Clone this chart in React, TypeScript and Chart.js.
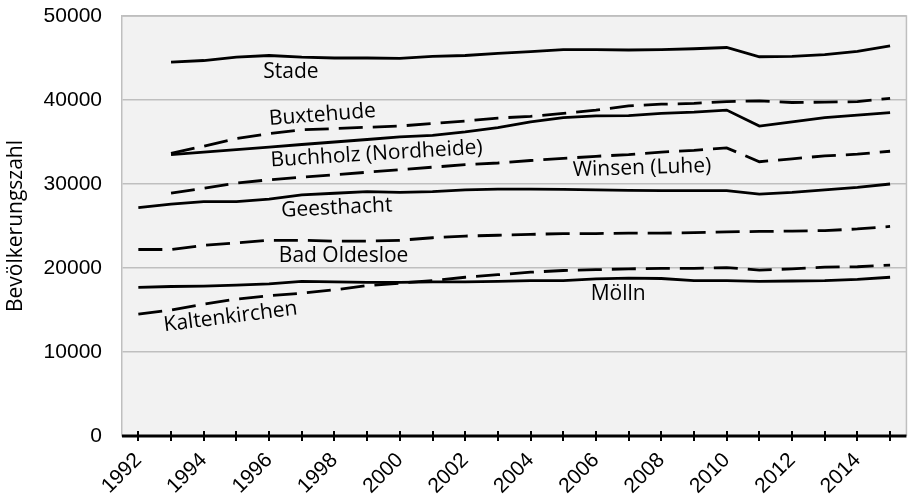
import React, { useEffect, useRef, useState } from "react";
import { Chart, registerables } from "chart.js";

Chart.register(...registerables);

const years = [
  "1992", "1993", "1994", "1995", "1996", "1997", "1998", "1999", "2000", "2001", "2002", "2003",
  "2004", "2005", "2006", "2007", "2008", "2009", "2010", "2011", "2012", "2013", "2014", "2015",
];

const stade = [null, 44500, 44700, 45100, 45300, 45100, 45000, 45000, 44950, 45200, 45300, 45550,
  45750, 46000, 46000, 45950, 46000, 46100, 46250, 45150, 45200, 45400, 45800, 46450];
const buxtehude = [null, 33650, 34500, 35400, 36000, 36450, 36600, 36750, 36900, 37200, 37500, 37850,
  38050, 38400, 38800, 39300, 39500, 39600, 39800, 39900, 39700, 39750, 39800, 40200];
const buchholz = [null, 33500, 33800, 34100, 34400, 34700, 35000, 35300, 35600, 35800, 36200, 36700,
  37400, 37900, 38100, 38150, 38400, 38550, 38800, 36900, 37400, 37900, 38200, 38500];
const winsen = [null, 28900, 29500, 30100, 30500, 30800, 31100, 31400, 31700, 32000, 32300, 32500,
  32800, 33050, 33300, 33500, 33800, 34000, 34300, 32650, 33000, 33350, 33550, 33900];
const geesthacht = [27200, 27600, 27900, 27900, 28200, 28700, 28900, 29100, 29000, 29100, 29300, 29400,
  29400, 29350, 29300, 29250, 29200, 29200, 29200, 28800, 29000, 29300, 29600, 30000];
const badOldesloe = [22200, 22200, 22700, 23000, 23300, 23300, 23200, 23200, 23300, 23600, 23800, 23900,
  24000, 24100, 24100, 24150, 24150, 24200, 24300, 24350, 24400, 24450, 24650, 24950];
const moelln = [17700, 17800, 17850, 17950, 18100, 18400, 18350, 18300, 18300, 18350, 18350, 18400,
  18500, 18500, 18700, 18800, 18750, 18500, 18500, 18400, 18450, 18500, 18650, 18900];
const kaltenkirchen = [14500, 15000, 15700, 16300, 16700, 17000, 17400, 17900, 18200, 18500, 18900, 19200,
  19500, 19700, 19800, 19900, 19950, 19950, 20050, 19750, 19900, 20100, 20150, 20350];

const yTicks = [0, 10000, 20000, 30000, 40000, 50000];

// inline labels anchored in data units
const labelTexts = ["Stade", "Buxtehude", "Buchholz (Nordheide)", "Winsen (Luhe)", "Geesthacht", "Bad Oldesloe", "Mölln", "Kaltenkirchen"];
const labelIdx = [4.67, 5.63, 7.29, 15.41, 6.07, 6.28, 14.68, 2.82];
const labelVal = [43330, 38210, 33570, 31900, 27140, 21430, 16900, 14170];
const labelRot = [0, -4.4, -3.5, -1.8, -2.8, 0, 0, -7.2];

const DASH = [24, 10];
const PLOT_BG = "#f2f2f2";

export default function App() {
  const ref = useRef<HTMLCanvasElement | null>(null);
  const [area, setArea] = useState<{ left: number; top: number; width: number; height: number } | null>(null);

  useEffect(() => {
    if (!ref.current) return;
    const axisFont = { family: "'Liberation Sans', Arial, sans-serif", size: 21 };
    const titleFont = { family: "'Open Sans', sans-serif", size: 21 };

    const mk = (data: (number | null)[], dashed: boolean) => ({
      data,
      borderColor: "#000",
      backgroundColor: "#000",
      borderWidth: 2.8,
      borderDash: dashed ? DASH : [],
      pointRadius: 0,
      tension: 0,
      fill: false,
    });

    const plotBg = {
      id: "plotBg",
      beforeDraw(chart: any) {
        const { ctx, chartArea: a } = chart;
        ctx.save();
        ctx.fillStyle = PLOT_BG;
        ctx.fillRect(a.left, a.top, a.right - a.left, a.bottom - a.top);
        ctx.restore();
      },
      afterDraw(chart: any) {
        const { ctx, chartArea: a } = chart;
        const xs = chart.scales.x;
        const ys = chart.scales.y;
        ctx.save();
        ctx.strokeStyle = "#bfbfbf";
        ctx.lineWidth = 1.5;
        ctx.beginPath();
        ctx.moveTo(a.left, a.top);
        ctx.lineTo(a.right, a.top);
        ctx.lineTo(a.right, a.bottom);
        ctx.stroke();
        // inner half of the crossing tick marks
        ctx.strokeStyle = "#000";
        ctx.lineWidth = 2;
        ctx.beginPath();
        xs.ticks.forEach((_t: any, i: number) => {
          const x = Math.round(xs.getPixelForTick(i));
          ctx.moveTo(x, a.bottom - 5);
          ctx.lineTo(x, a.bottom);
        });
        ctx.stroke();
        // x axis line
        ctx.lineWidth = 3;
        ctx.beginPath();
        ctx.moveTo(a.left, a.bottom);
        ctx.lineTo(a.right, a.bottom);
        ctx.stroke();
        // inline labels
        ctx.fillStyle = "#000";
        ctx.font = "21px 'Open Sans', sans-serif";
        ctx.textAlign = "center";
        ctx.textBaseline = "middle";
        labelTexts.forEach((t, i) => {
          const px = xs.getPixelForValue(labelIdx[i]);
          const py = ys.getPixelForValue(labelVal[i]);
          ctx.save();
          ctx.translate(px, py);
          ctx.rotate((labelRot[i] * Math.PI) / 180);
          ctx.fillText(t, 0, 0);
          ctx.restore();
        });
        ctx.restore();
      },
    };

    const chart = new Chart(ref.current, {
      type: "line",
      data: {
        labels: years,
        datasets: [
          mk(stade, false),
          mk(buxtehude, true),
          mk(buchholz, false),
          mk(winsen, true),
          mk(geesthacht, false),
          mk(badOldesloe, true),
          mk(moelln, false),
          mk(kaltenkirchen, true),
        ],
      },
      options: {
        responsive: false,
        animation: false,
        layout: { padding: { top: 16, right: 4, left: 0, bottom: 0 } },
        plugins: { legend: { display: false }, tooltip: { enabled: false } },
        scales: {
          x: {
            type: "category",
            offset: true,
            grid: { display: true, drawOnChartArea: false, drawTicks: true, tickLength: 5, color: "#000", lineWidth: 2 },
            border: { display: false },
            ticks: {
              autoSkip: false,
              maxRotation: 45,
              minRotation: 45,
              color: "#000",
              font: axisFont,
              padding: 7,
              callback: (_v: any, i: number) => (i % 2 === 0 ? years[i] : ""),
            },
            afterFit: (s: any) => {
              s.height = 61;
            },
          },
          y: {
            min: 0,
            max: 50000,
            afterBuildTicks: (s: any) => {
              s.ticks = yTicks.map((v) => ({ value: v }));
            },
            ticks: { color: "#000", font: axisFont, padding: 0, callback: (v: any) => String(v) },
            grid: {
              drawTicks: true,
              tickLength: 20,
              tickColor: "rgba(0,0,0,0)",
              lineWidth: 1.5,
              color: (c: any) => (c.tick && c.tick.value === 0 ? "rgba(0,0,0,0)" : "#bfbfbf"),
            },
            border: { display: true, color: "#bfbfbf", width: 1.5 },
            title: {
              display: true,
              text: "Bevölkerungszahl",
              color: "#000",
              font: titleFont,
              padding: { top: 3, bottom: 0 },
            },
            afterFit: (s: any) => {
              s.width = 122;
            },
          },
        },
      },
      plugins: [plotBg],
    });
    const a = chart.chartArea;
    setArea({ left: a.left, top: a.top, width: a.right - a.left, height: a.bottom - a.top });
    return () => chart.destroy();
  }, []);

  return (
    <div style={{ position: "absolute", left: 0, top: 0, width: 915, height: 497, background: "#fff" }}>
      {area && (
        <div
          style={{
            position: "absolute",
            left: area.left,
            top: area.top,
            width: area.width,
            height: area.height,
            background: PLOT_BG,
          }}
        />
      )}
      <canvas ref={ref} width={915} height={497} style={{ position: "absolute", left: 0, top: 0 }} />
    </div>
  );
}
